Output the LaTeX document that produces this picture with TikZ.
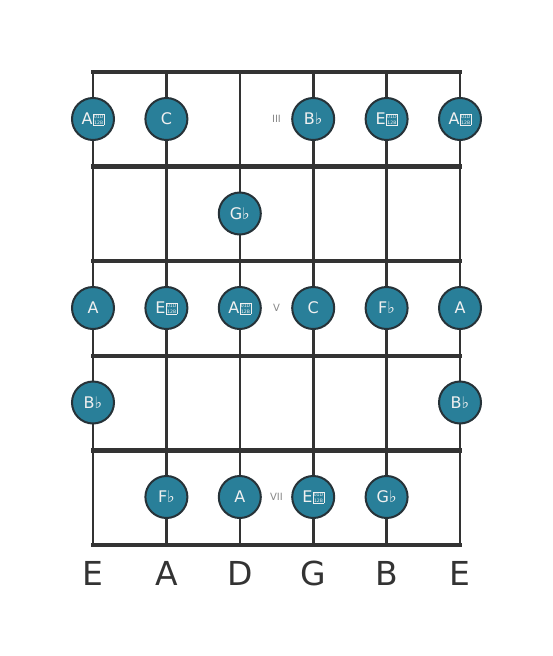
\documentclass[tikz,border=0pt]{standalone}
\usepackage{fontspec}
\setmainfont{DejaVu Sans}
\definecolor{fretline}{RGB}{51,51,51}
\definecolor{dotfill}{RGB}{41,127,153}
\definecolor{dotedge}{RGB}{38,50,56}
\definecolor{dottext}{RGB}{240,240,240}
\definecolor{fretnum}{RGB}{136,136,136}
% flat and the missing double flat glyph box
\newcommand{\flt}{♭}
\newcommand{\dflt}{\kern0.5pt\raisebox{-0.3pt}{\setlength{\fboxsep}{0.4pt}\setlength{\fboxrule}{0.5pt}\fbox{\fontsize{4.6}{5}\selectfont\shortstack{01D\\12B}}}}
\tikzset{
  note/.style={circle, draw=dotedge, line width=2pt, fill=dotfill, minimum size=42pt,
    inner sep=0pt, text=dottext, font=\fontsize{16}{16}\selectfont},
  fretno/.style={text=fretnum, font=\fontsize{10}{10}\selectfont},
  strname/.style={text=fretline, font=\fontsize{33}{33}\selectfont},
}
\begin{document}
\begin{tikzpicture}[x=1pt, y=-1pt]
        \useasboundingbox (0,0) rectangle (553,656);
        % strings
        \draw [fretline, line width=2.6pt] (93, 72) -- (93, 545);
        \draw [fretline, line width=2.6pt] (166.4, 72) -- (166.4, 545);
        \draw [fretline, line width=2.6pt] (239.8, 72) -- (239.8, 545);
        \draw [fretline, line width=2.6pt] (313.2, 72) -- (313.2, 545);
        \draw [fretline, line width=2.6pt] (386.6, 72) -- (386.6, 545);
        \draw [fretline, line width=2.6pt] (460, 72) -- (460, 545);
        % frets
        \draw [fretline, line width=4.5pt, line cap=rect] (93, 72) -- (460, 72);
        \draw [fretline, line width=4.5pt, line cap=rect] (93, 166.6) -- (460, 166.6);
        \draw [fretline, line width=4.5pt, line cap=rect] (93, 261.2) -- (460, 261.2);
        \draw [fretline, line width=4.5pt, line cap=rect] (93, 355.8) -- (460, 355.8);
        \draw [fretline, line width=4.5pt, line cap=rect] (93, 450.4) -- (460, 450.4);
        \draw [fretline, line width=4.5pt, line cap=rect] (93, 545) -- (460, 545);
        % fret numbers
        \node [fretno] (fIII) at (276.5, 119) {III};
        \node [fretno] (fV) at (276.5, 308) {V};
        \node [fretno] (fVII) at (276.5, 497) {VII};
        % first row
        \node [note] (a1) at (93, 119) {A\dflt};
        \node [note] (b1) at (166.4, 119) {C};
        \node [note] (d1) at (313.2, 119) {B\flt};
        \node [note] (e1) at (386.6, 119) {E\dflt};
        \node [note] (f1) at (460, 119) {A\dflt};
        % second row
        \node [note] (c2) at (239.8, 213.5) {G\flt};
        % third row
        \node [note] (a3) at (93, 308) {A};
        \node [note] (b3) at (166.4, 308) {E\dflt};
        \node [note] (c3) at (239.8, 308) {A\dflt};
        \node [note] (d3) at (313.2, 308) {C};
        \node [note] (e3) at (386.6, 308) {F\flt};
        \node [note] (f3) at (460, 308) {A};
        % fourth row
        \node [note] (a4) at (93, 402.5) {B\flt};
        \node [note] (f4) at (460, 402.5) {B\flt};
        % fifth row
        \node [note] (b5) at (166.4, 497) {F\flt};
        \node [note] (c5) at (239.8, 497) {A};
        \node [note] (d5) at (313.2, 497) {E\dflt};
        \node [note] (e5) at (386.6, 497) {G\flt};
        % string names
        \node [strname] (sE) at (93, 573) {E};
        \node [strname] (sA) at (166.4, 573) {A};
        \node [strname] (sD) at (239.8, 573) {D};
        \node [strname] (sG) at (313.2, 573) {G};
        \node [strname] (sB) at (386.6, 573) {B};
        \node [strname] (se) at (460, 573) {E};
      \end{tikzpicture}
\end{document}
